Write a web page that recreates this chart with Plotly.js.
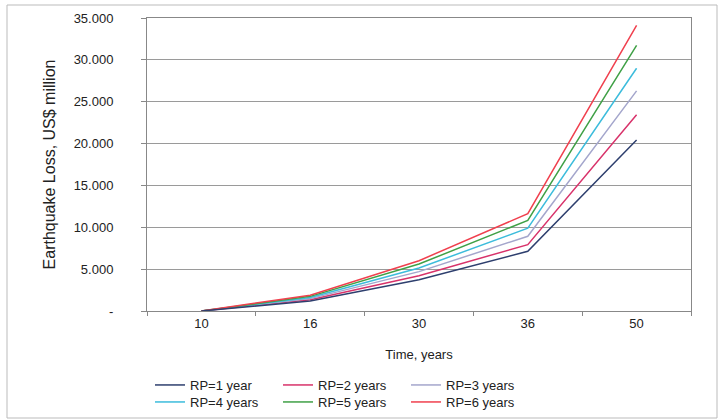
<!DOCTYPE html>
<html>
<head>
<meta charset="utf-8">
<script src="https://cdn.plot.ly/plotly-3.0.1.min.js"></script>
<style>html,body{margin:0;padding:0;background:#fff;}#chart{width:728px;height:420px;}</style>
</head>
<body>
<div id="chart"></div>
<script>
var years = ['10', '16', '30', '36', '50'];
var seriesNames = ['RP=1 year', 'RP=2 years', 'RP=3 years', 'RP=4 years', 'RP=5 years', 'RP=6 years'];
var rp1 = [0, 1200, 3730, 7130, 20430];
var rp2 = [0, 1340, 4210, 7930, 23440];
var rp3 = [0, 1480, 4700, 8930, 26300];
var rp4 = [0, 1610, 5130, 9890, 29000];
var rp5 = [0, 1750, 5610, 10820, 31730];
var rp6 = [0, 1890, 6010, 11620, 34130];
var yTickVals = [0, 5000, 10000, 15000, 20000, 25000, 30000, 35000];
var yTickText = ['-', '5.000', '10.000', '15.000', '20.000', '25.000', '30.000', '35.000'];
var yRange = [0, 35000];

var colors = ['#2e3f6e', '#d8326a', '#a4a6cc', '#3cbcdc', '#3fa046', '#f0404e'];
var allSeries = [rp1, rp2, rp3, rp4, rp5, rp6];
var legendIds = ['legend', 'legend', 'legend', 'legend2', 'legend2', 'legend2'];
// RP=1 sits on the overlay axis (identical fixed range) so that axis, which carries the labels, is drawn
var yAxisIds = ['y2', 'y', 'y', 'y', 'y', 'y'];

var traces = allSeries.map(function (s, i) {
  return {
    x: years, y: s, type: 'scatter', mode: 'lines', name: seriesNames[i],
    line: {color: colors[i], width: 1.5},
    legend: legendIds[i], yaxis: yAxisIds[i]
  };
});

var font = {family: 'Liberation Sans, Arial, sans-serif', size: 13, color: '#222'};
var legendCommon = {
  orientation: 'h', xref: 'container', yref: 'container', xanchor: 'left', yanchor: 'middle',
  entrywidth: 83, entrywidthmode: 'pixels', font: font, bgcolor: 'rgba(0,0,0,0)',
  itemwidth: 30, tracegroupgap: 0
};

var layout = {
  width: 728, height: 420,
  margin: {l: 147, r: 37, t: 18, b: 109, autoexpand: false},
  paper_bgcolor: '#fff', plot_bgcolor: '#fff',
  font: font,
  showlegend: true,
  xaxis: {
    type: 'category', range: [-0.5, 4.5], tickson: 'boundaries', ticks: 'outside', ticklen: 4, tickcolor: '#888',
    showgrid: false, showline: true, linecolor: '#888', linewidth: 1, mirror: true,
    tickfont: font, automargin: true,
    title: {text: 'Time, years', font: font, standoff: 20}
  },
  // main value axis: short visible ticks, grid and title
  yaxis: {
    range: yRange, tickvals: yTickVals, ticktext: yTickText, showticklabels: false,
    ticks: 'outside', ticklen: 5, tickcolor: '#888',
    showgrid: true, gridcolor: '#9a9a9a', gridwidth: 1,
    showline: true, linecolor: '#888', linewidth: 1, mirror: true,
    zeroline: false, automargin: true,
    title: {text: 'Earthquake Loss, US$ million', font: {family: font.family, size: 16, color: '#222'}, standoff: 81}
  },
  // overlay axis with the same range that carries the tick labels, set further out from the plot
  yaxis2: {
    overlaying: 'y', side: 'left', anchor: 'x',
    range: yRange, tickvals: yTickVals, ticktext: yTickText,
    ticks: 'outside', ticklen: 30, tickcolor: 'rgba(0,0,0,0)',
    showgrid: false, showline: false, zeroline: false,
    tickfont: font
  },
  legend: Object.assign({x: 150 / 728, y: 1 - 385 / 420}, legendCommon),
  legend2: Object.assign({x: 150 / 728, y: 1 - 402 / 420}, legendCommon),
  shapes: [{
    type: 'rect', xref: 'paper', yref: 'paper',
    x0: (7 - 147) / 544, x1: (717 - 147) / 544,
    y0: (311 - 418) / 293, y1: (311 - 5) / 293,
    line: {color: '#bbb', width: 1}, fillcolor: 'rgba(0,0,0,0)', layer: 'below'
  }]
};

Plotly.newPlot('chart', traces, layout, {displayModeBar: false, staticPlot: true});
</script>
</body>
</html>
